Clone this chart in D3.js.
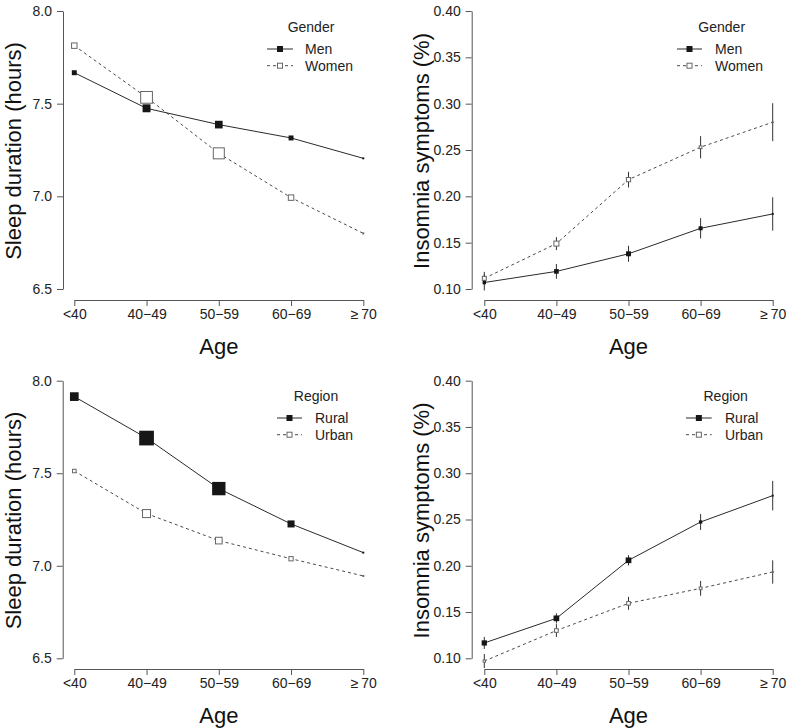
<!DOCTYPE html>
<html>
<head>
<meta charset="utf-8">
<script src="https://cdn.jsdelivr.net/npm/d3@7"></script>
<style>
  html, body { margin: 0; padding: 0; background: #fff; }
  svg { display: block; font-family: "Liberation Sans", Arial, Helvetica, sans-serif; }
</style>
</head>
<body>
<svg id="chart" width="787" height="728"></svg>
<script>
// ---------- data ----------
const ageGroups = ["<40", "40\u221249", "50\u221259", "60\u221269", "\u2265\u200970"];

const sleepTicks = [6.5, 7.0, 7.5, 8.0];
const insomniaTicks = [0.10, 0.15, 0.20, 0.25, 0.30, 0.35, 0.40];

// Panel A: sleep duration by gender
const sleepMen   = [7.667, 7.475, 7.387, 7.315, 7.205];
const sleepWomen = [7.813, 7.534, 7.232, 6.993, 6.800];
const sleepMenWeight   = [33, 53, 51, 33, 13];
const sleepWomenWeight = [43, 85, 80, 43, 13];

// Panel B: insomnia symptoms by gender
const insomMen      = [0.107, 0.119, 0.138, 0.1655, 0.181];
const insomMenErr   = [0.0086, 0.008, 0.0086, 0.011, 0.018];
const insomWomen    = [0.1115, 0.149, 0.218, 0.253, 0.280];
const insomWomenErr = [0.007, 0.007, 0.0085, 0.012, 0.0205];
const insomMenWeight   = [23, 31, 33, 27, 13];
const insomWomenWeight = [33, 40, 35, 25, 13];

// Panel C: sleep duration by region
const sleepRural = [7.914, 7.690, 7.417, 7.226, 7.071];
const sleepUrban = [7.512, 7.282, 7.136, 7.038, 6.945];
const sleepRuralWeight = [58, 98, 89, 47, 13];
const sleepUrbanWeight = [30, 60, 51, 35, 13];

// Panel D: insomnia symptoms by region
const insomRural    = [0.1166, 0.1432, 0.2059, 0.2473, 0.2758];
const insomRuralErr = [0.0065, 0.0055, 0.0055, 0.0086, 0.016];
const insomUrban    = [0.097, 0.130, 0.1594, 0.1756, 0.1933];
const insomUrbanErr = [0.0076, 0.007, 0.007, 0.008, 0.0126];
const insomRuralWeight = [35, 38, 38, 22, 13];
const insomUrbanWeight = [22, 31, 31, 25, 13];

// ---------- drawing ----------
const svg = d3.select("#chart");
const sizeScale = d3.scaleLinear().domain([0, 100]).range([0, 15]);

const solidCol = "#2a2a2a";
const dashCol = "#4a4a4a";
const openStroke = "#666";

function panel(cfg) {
  const g = svg.append("g");
  const x = d3.scalePoint().domain(ageGroups).range([cfg.x0, cfg.x1]);
  const y = d3.scaleLinear().domain(cfg.yDomain).range([cfg.yBottom, cfg.yTop]);

  const yAxis = g.append("g").attr("transform", `translate(${cfg.yAxisX},0)`)
    .call(d3.axisLeft(y).tickValues(cfg.yTicks).tickFormat(cfg.yFormat).tickSize(6).tickSizeOuter(0).tickPadding(5));
  const xAxis = g.append("g").attr("transform", `translate(0,${cfg.xAxisY})`)
    .call(d3.axisBottom(x).tickSize(6).tickSizeOuter(0).tickPadding(3));
  [yAxis, xAxis].forEach(a => {
    a.select(".domain").attr("stroke", "#555");
    a.selectAll(".tick line").attr("stroke", "#555");
    a.selectAll(".tick text").attr("fill", "#222").style("font-size", "14px");
  });

  g.append("text")
    .attr("transform", `translate(${cfg.yTitleX},${(cfg.yBottom + cfg.yTop) / 2 + 1}) rotate(-90)`)
    .attr("text-anchor", "middle").attr("fill", "#111").style("font-size", "22px")
    .text(cfg.yTitle);
  g.append("text")
    .attr("x", (cfg.x0 + cfg.x1) / 2).attr("y", cfg.xAxisY + 54)
    .attr("text-anchor", "middle").attr("fill", "#111").style("font-size", "22px")
    .text("Age");

  const line = d3.line().x((d, i) => x(ageGroups[i])).y(d => y(d));

  const series = [
    { vals: cfg.s2, err: cfg.e2, w: cfg.w2, open: true },
    { vals: cfg.s1, err: cfg.e1, w: cfg.w1, open: false }
  ];
  series.forEach(s => {
    g.append("path").datum(s.vals).attr("d", line)
      .attr("fill", "none")
      .attr("stroke", s.open ? dashCol : solidCol)
      .attr("stroke-width", 1)
      .attr("stroke-dasharray", s.open ? "3,3" : null);
  });
  series.forEach(s => {
    if (s.err) {
      g.selectAll(null).data(s.vals).enter().append("line")
        .attr("x1", (d, i) => x(ageGroups[i])).attr("x2", (d, i) => x(ageGroups[i]))
        .attr("y1", (d, i) => y(d - s.err[i])).attr("y2", (d, i) => y(d + s.err[i]))
        .attr("stroke", "#333").attr("stroke-width", 1);
    }
  });
  series.forEach(s => {
    g.selectAll(null).data(s.vals).enter().append("rect")
      .each(function (d, i) {
        const side = sizeScale(s.w[i]);
        const sd = s.open ? Math.max(side - 1, 1) : side;
        d3.select(this)
          .attr("x", x(ageGroups[i]) - sd / 2).attr("y", y(d) - sd / 2)
          .attr("width", sd).attr("height", sd)
          .attr("fill", s.open ? "#fff" : "#161616")
          .attr("stroke", s.open ? openStroke : "none")
          .attr("stroke-width", s.open ? 1 : 0);
      });
  });

  const L = cfg.legend;
  g.append("text").attr("x", L.titleX).attr("y", L.y + 5).attr("text-anchor", "middle")
    .attr("fill", "#222").style("font-size", "14px").text(L.title);
  L.labels.forEach((lab, k) => {
    const yy = L.y + 22 + k * 16.7;
    const open = k === 1;
    g.append("line").attr("x1", L.lx0).attr("x2", L.lx1).attr("y1", yy).attr("y2", yy)
      .attr("stroke", open ? dashCol : solidCol).attr("stroke-width", 1)
      .attr("stroke-dasharray", open ? "3,3" : null);
    const side = 6;
    const sd = open ? side - 1 : side;
    g.append("rect").attr("x", (L.lx0 + L.lx1) / 2 - sd / 2).attr("y", yy - sd / 2)
      .attr("width", sd).attr("height", sd)
      .attr("fill", open ? "#fff" : "#161616")
      .attr("stroke", open ? openStroke : "none");
    g.append("text").attr("x", L.tx).attr("y", yy + 5)
      .attr("fill", "#222").style("font-size", "14px").text(lab);
  });
}

const fmt1 = d3.format(".1f");
const fmt2 = d3.format(".2f");

panel({
  x0: 74.3, x1: 363.3, yAxisX: 63, xAxisY: 300, yTop: 11, yBottom: 289,
  yDomain: [6.5, 8.0], yTicks: sleepTicks, yFormat: fmt1,
  yTitle: "Sleep duration (hours)", yTitleX: 20.5,
  s1: sleepMen, s2: sleepWomen, w1: sleepMenWeight, w2: sleepWomenWeight,
  legend: { title: "Gender", titleX: 311, y: 27, lx0: 267, lx1: 293, tx: 305, labels: ["Men", "Women"] }
});

panel({
  x0: 484.3, x1: 772.7, yAxisX: 471.7, xAxisY: 300, yTop: 11, yBottom: 289,
  yDomain: [0.10, 0.40], yTicks: insomniaTicks, yFormat: fmt2,
  yTitle: "Insomnia symptoms (%)", yTitleX: 428.5,
  s1: insomMen, s2: insomWomen, e1: insomMenErr, e2: insomWomenErr,
  w1: insomMenWeight, w2: insomWomenWeight,
  legend: { title: "Gender", titleX: 721.7, y: 27, lx0: 677, lx1: 702, tx: 715, labels: ["Men", "Women"] }
});

panel({
  x0: 74.3, x1: 363.3, yAxisX: 62.7, xAxisY: 669, yTop: 380.7, yBottom: 658.3,
  yDomain: [6.5, 8.0], yTicks: sleepTicks, yFormat: fmt1,
  yTitle: "Sleep duration (hours)", yTitleX: 20.5,
  s1: sleepRural, s2: sleepUrban, w1: sleepRuralWeight, w2: sleepUrbanWeight,
  legend: { title: "Region", titleX: 316, y: 396, lx0: 277, lx1: 302, tx: 315, labels: ["Rural", "Urban"] }
});

panel({
  x0: 484.3, x1: 772.7, yAxisX: 471.7, xAxisY: 669, yTop: 380.7, yBottom: 658.3,
  yDomain: [0.10, 0.40], yTicks: insomniaTicks, yFormat: fmt2,
  yTitle: "Insomnia symptoms (%)", yTitleX: 428.5,
  s1: insomRural, s2: insomUrban, e1: insomRuralErr, e2: insomUrbanErr,
  w1: insomRuralWeight, w2: insomUrbanWeight,
  legend: { title: "Region", titleX: 725.7, y: 396, lx0: 686, lx1: 711.7, tx: 725, labels: ["Rural", "Urban"] }
});
</script>
</body>
</html>
